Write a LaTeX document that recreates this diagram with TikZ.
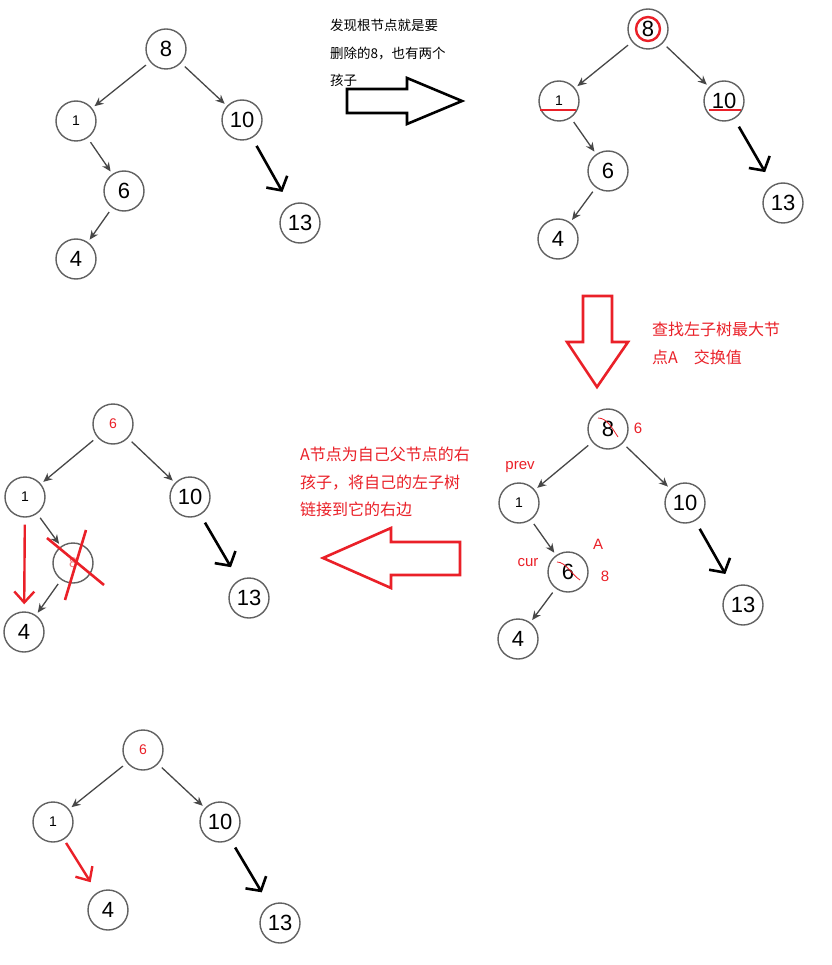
\documentclass[tikz,border=0pt]{standalone}
\usepackage{fontspec}
\setmainfont{Liberation Sans}
\newfontfamily\cjk{Noto Sans CJK SC}
\usetikzlibrary{arrows.meta}
\definecolor{mkred}{RGB}{234,32,40}

\begin{document}
\begin{tikzpicture}[x=1pt, y=-1pt,
      key/.style={circle, draw=black!62, line width=1.4pt,
                  minimum size=40pt, inner sep=0pt,
                  font=\fontsize{22}{22}\selectfont},
      small/.style={font=\fontsize{14}{14}\selectfont},
      link/.style={draw=black!72, line width=1.3pt,
                   shorten <=5pt, shorten >=3pt,
                   -{Stealth[length=9pt,width=8pt]}},
      jump/.style={draw=black, line width=2.6pt,
                   shorten <=9pt, shorten >=15pt,
                   -{Straight Barb[length=10pt,width=24pt]}},
      relink/.style={draw=mkred, line width=2.4pt,
                     -{Straight Barb[length=11pt,width=20pt]}},
      bigarrow/.style={line width=2.6pt, line join=miter},
      cross/.style={draw=mkred, line width=2.6pt},
      note/.style={font=\cjk\fontsize{13.5}{27.5}\selectfont,
                   align=left, anchor=north west, inner sep=0pt},
      rednote/.style={note, text=mkred,
                      font=\cjk\fontsize{16}{27.5}\selectfont},
      tag/.style={text=mkred, font=\fontsize{15}{15}\selectfont, inner sep=0pt},
    ]

    \path[fill=white] (0,0) rectangle (831,965);
    \useasboundingbox (0,0) rectangle (831,965);

    % ---- tree 1: start ---------------------------------------------
    \node[key] (t1n8) at (166,49) {8};
    \node[key, small] (t1n1) at (76,121) {1};
    \node[key] (t1n10) at (242,120) {10};
    \node[key] (t1n6) at (124,191) {6};
    \node[key] (t1n4) at (76,259) {4};
    \node[key] (t1n13) at (300,223) {13};

    \draw[link] (t1n8) -- (t1n1);
    \draw[link] (t1n8) -- (t1n10);
    \draw[link] (t1n1) -- (t1n6);
    \draw[link] (t1n6) -- (t1n4);
    \draw[jump] (t1n10) -- (t1n13);

    % ---- step 1 ----------------------------------------------------
    \node[note] (say1) at (330,19)
      {发现根节点就是要\\删除的8，也有两个\\孩子};
    \draw[bigarrow] (347,89) -- (407,89) -- (407,78) -- (462,101)
      -- (407,124) -- (407,113) -- (347,113) -- cycle;

    % ---- tree 2: root found ----------------------------------------
    \node[key] (t2n8) at (648,29) {8};
    \node[key, small] (t2n1) at (559,101) {1};
    \node[key] (t2n10) at (724,101) {10};
    \node[key] (t2n6) at (608,171) {6};
    \node[key] (t2n4) at (558,239) {4};
    \node[key] (t2n13) at (783,203) {13};

    \draw[link] (t2n8) -- (t2n1);
    \draw[link] (t2n8) -- (t2n10);
    \draw[link] (t2n1) -- (t2n6);
    \draw[link] (t2n6) -- (t2n4);
    \draw[jump] (t2n10) -- (t2n13);

    \draw[mkred, line width=2.4pt] (t2n8) circle (12pt);
    \draw[mkred, line width=2.4pt] (540,110) -- (576,110);
    \draw[mkred, line width=2.4pt] (709,110) -- (741,110);

    % ---- step 2 ----------------------------------------------------
    \draw[bigarrow, draw=mkred] (583,296) -- (612,296) -- (612,342)
      -- (628,342) -- (597,387) -- (567,342) -- (583,342) -- cycle;
    \node[rednote] (say2) at (652,322) {查找左子树最大节\\点A\quad 交换值};

    % ---- tree 3: swap ----------------------------------------------
    \node[key] (t3n8) at (608,429) {8};
    \node[key, small] (t3n1) at (519,503) {1};
    \node[key] (t3n10) at (685,503) {10};
    \node[key] (t3n6) at (568,572) {6};
    \node[key] (t3n4) at (518,639) {4};
    \node[key] (t3n13) at (743,605) {13};

    \draw[link] (t3n8) -- (t3n1);
    \draw[link] (t3n8) -- (t3n10);
    \draw[link] (t3n1) -- (t3n6);
    \draw[link] (t3n6) -- (t3n4);
    \draw[jump] (t3n10) -- (t3n13);

    \draw[mkred, line width=0.8pt] (598,418) .. controls (607,418) and (612,428) .. (618,437);
    \draw[mkred, line width=0.8pt] (557,562) .. controls (566,562) and (572,575) .. (580,580);
    \node[tag] (new8) at (638,428) {6};
    \node[tag] (prev) at (520,467) {prev};
    \node[tag] (cur) at (528,563) {cur};
    \node[tag] (nodeA) at (598,544) {A};
    \node[tag] (new6) at (605,576) {8};

    % ---- step 3 ----------------------------------------------------
    \node[rednote] (say3) at (300,447)
      {A节点为自己父节点的右\\孩子，将自己的左子树\\链接到它的右边};
    \draw[bigarrow, draw=mkred] (460,542) -- (391,542) -- (391,528)
      -- (323,558) -- (391,588) -- (391,575) -- (460,575) -- cycle;

    % ---- tree 4: relink --------------------------------------------
    \node[key, small, text=mkred] (t4n6) at (113,424) {6};
    \node[key, small] (t4n1) at (25,497) {1};
    \node[key] (t4n10) at (190,497) {10};
    \node[key, small, text=mkred!60] (t4n8) at (73,563) {8};
    \node[key] (t4n4) at (24,632) {4};
    \node[key] (t4n13) at (249,598) {13};

    \draw[link] (t4n6) -- (t4n1);
    \draw[link] (t4n6) -- (t4n10);
    \draw[link] (t4n1) -- (t4n8);
    \draw[link] (t4n8) -- (t4n4);
    \draw[jump] (t4n10) -- (t4n13);
    \draw[relink, shorten <=7pt, shorten >=7pt] (t4n1) -- (t4n4);

    \draw[cross] (47,538) -- (104,585);
    \draw[cross] (86,530) -- (65,600);

    % ---- tree 5: result --------------------------------------------
    \node[key, small, text=mkred] (t5n6) at (143,750) {6};
    \node[key, small] (t5n1) at (53,822) {1};
    \node[key] (t5n10) at (220,822) {10};
    \node[key] (t5n4) at (108,910) {4};
    \node[key] (t5n13) at (280,923) {13};

    \draw[link] (t5n6) -- (t5n1);
    \draw[link] (t5n6) -- (t5n10);
    \draw[jump] (t5n10) -- (t5n13);
    \draw[relink, shorten <=4pt, shorten >=12pt] (t5n1) -- (t5n4);

  \end{tikzpicture}
\end{document}
